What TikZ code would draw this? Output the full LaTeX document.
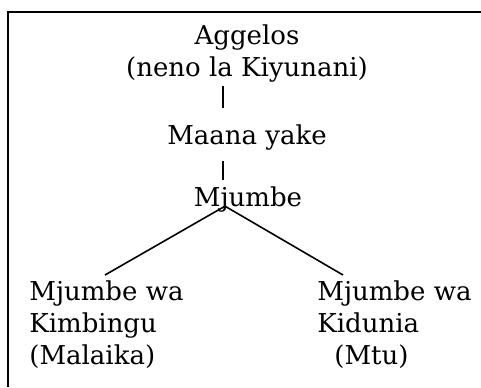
\documentclass[tikz,border=0pt]{standalone}
\usepackage{fontspec}
\setmainfont{DejaVu Serif}
\begin{document}
\begin{tikzpicture}[x=0.5pt,y=0.5pt]
        \useasboundingbox (0,0) rectangle (481,-387);
        \draw[line width=1pt] (7.5,-387) |- (481,-11.5);
        \begin{scope}[every node/.style={inner sep=0pt,font=\fontsize{13}{16}\selectfont}]
          \node[anchor=north,align=center] (aggelos) at (247,-24) {Aggelos\\(neno la Kiyunani)};
          \node[anchor=north] (maana) at (247,-124) {Maana yake};
          \node[anchor=north] (mjumbe) at (248,-186) {Mjumbe};
          \node[anchor=north west,align=left] (kimbingu) at (29,-280) {Mjumbe wa\\Kimbingu\\(Malaika)};
          \node[anchor=north west,align=left] (kidunia) at (317,-280) {Mjumbe wa\\Kidunia\\\hspace*{8.5pt}(Mtu)};
        \end{scope}
        \begin{scope}[every edge/.style={draw=black,line width=0.8pt}]
          \path ([shift={(-12pt,-2pt)}]aggelos.south) edge ([shift={(-12pt,8pt)}]maana.north);
          \path ([shift={(-12pt,-5.5pt)}]maana.south) edge ([shift={(-12.5pt,3pt)}]mjumbe.north);
          \path ([xshift=-11.5pt]mjumbe.base) edge ([shift={(38pt,2.5pt)}]kimbingu.north west);
          \path ([xshift=-11.5pt]mjumbe.base) edge ([shift={(13pt,2.5pt)}]kidunia.north west);
        \end{scope}
\end{tikzpicture}
\end{document}
